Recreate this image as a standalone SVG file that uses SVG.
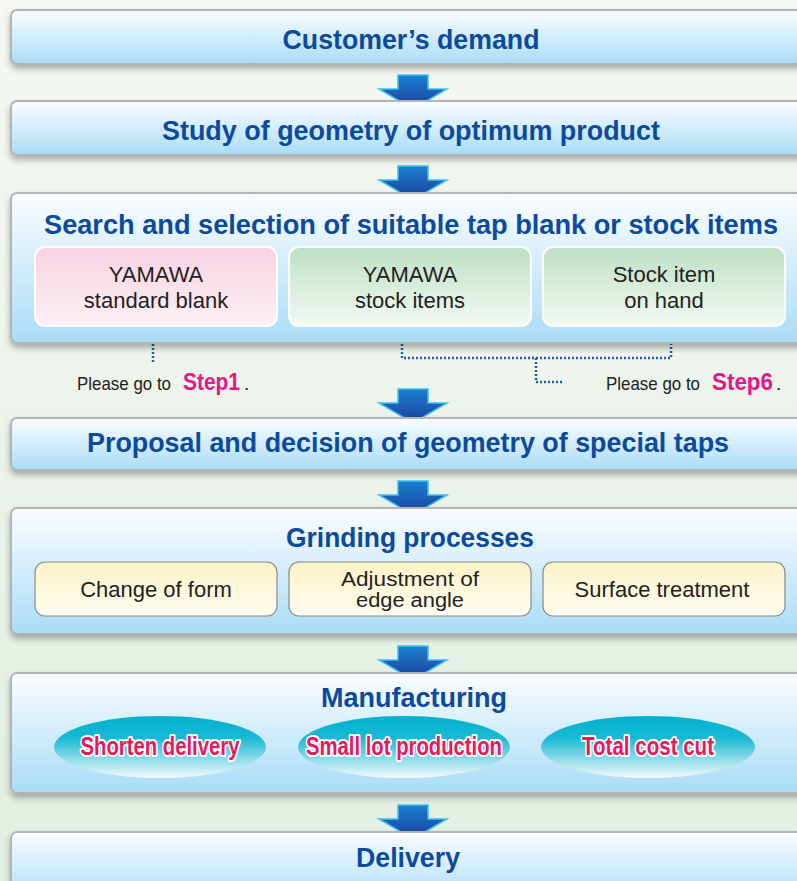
<svg xmlns="http://www.w3.org/2000/svg" width="797" height="881" viewBox="0 0 797 881">
<defs>
<linearGradient id="bg" x1="0" y1="0" x2="0" y2="1"><stop offset="0" stop-color="#f5f8f2"/><stop offset="1" stop-color="#e2efe2"/></linearGradient>
<linearGradient id="box" x1="0" y1="0" x2="0" y2="1"><stop offset="0" stop-color="#fbfdff"/><stop offset="1" stop-color="#a9dcf6"/></linearGradient>
<linearGradient id="pink" x1="0" y1="0" x2="0" y2="1"><stop offset="0" stop-color="#f8d2e2"/><stop offset="1" stop-color="#fdf1f6"/></linearGradient>
<linearGradient id="green" x1="0" y1="0" x2="0" y2="1"><stop offset="0" stop-color="#bde0c4"/><stop offset="1" stop-color="#f3faf4"/></linearGradient>
<linearGradient id="yellow" x1="0" y1="0" x2="0" y2="1"><stop offset="0" stop-color="#fcf3c6"/><stop offset="1" stop-color="#fffdf2"/></linearGradient>
<linearGradient id="ell" x1="0" y1="0" x2="0" y2="1"><stop offset="0" stop-color="#00b2cf"/><stop offset="0.35" stop-color="#1ab8d4"/><stop offset="1" stop-color="#f4fbfd"/></linearGradient>
<linearGradient id="arr" x1="0" y1="0" x2="0" y2="1"><stop offset="0" stop-color="#1a7fd2"/><stop offset="1" stop-color="#1d3f9a"/></linearGradient>
<filter id="sh" x="-5%" y="-20%" width="110%" height="150%"><feDropShadow dx="0" dy="4" stdDeviation="3" flood-color="#000" flood-opacity="0.3"/></filter>
<path id="arrow" d="M-15,0 H15 V14 H34 L0,34 L-34,14 H-15 Z"/>
</defs>
<style>
.main{fill:url(#box);stroke:#b4b4b4;stroke-width:2;filter:url(#sh)}
.title{font-family:"Liberation Sans",Arial,sans-serif;font-weight:bold;font-size:27px;fill:#0c4a9e;text-anchor:middle}
.sub{font-family:"Liberation Sans",Arial,sans-serif;font-size:22px;fill:#222;text-anchor:middle}
.sub2{font-family:"Liberation Sans",Arial,sans-serif;font-size:20px;fill:#222;text-anchor:middle}
.pk{fill:url(#pink);stroke:#fff;stroke-width:2}
.gr{fill:url(#green);stroke:#fff;stroke-width:2}
.yl{fill:url(#yellow);stroke:#8a8a8a;stroke-width:1.2}
.el{fill:url(#ell)}
.pt{font-family:"Liberation Sans",Arial,sans-serif;font-weight:bold;font-size:26px;fill:#e8185c;stroke:#fff;stroke-width:4;paint-order:stroke;stroke-linejoin:round;text-anchor:middle}
.arw{fill:url(#arr);stroke:#3cc0f0;stroke-width:1.5}
.dot{fill:none;stroke:#1f5fae;stroke-width:2.5;stroke-dasharray:2 2}
.go{font-family:"Liberation Sans",Arial,sans-serif;font-size:19px;fill:#222}
.step{font-family:"Liberation Sans",Arial,sans-serif;font-weight:bold;font-size:24px;fill:#e5168c}
</style>
<rect width="797" height="881" fill="url(#bg)"/>

<g id="connectors">
<use href="#arrow" x="413" y="75" class="arw"/>
<use href="#arrow" x="413" y="166" class="arw"/>
<use href="#arrow" x="413" y="389" class="arw"/>
<use href="#arrow" x="413" y="481" class="arw"/>
<use href="#arrow" x="413" y="646" class="arw"/>
<use href="#arrow" x="413" y="805" class="arw"/>
<path class="dot" d="M153,328 V363"/>
<path class="dot" d="M402,328 V358 H671 V328"/>
<path class="dot" d="M536,358 V382 H564"/>
</g>

<g id="customer-demand">
<rect class="main" x="11" y="10" width="800" height="54" rx="6"/>
<text class="title" x="411" y="49" textLength="257" lengthAdjust="spacingAndGlyphs">Customer’s demand</text>
</g>

<g id="study-geometry">
<rect class="main" x="11" y="101" width="800" height="54" rx="6"/>
<text class="title" x="411" y="140" textLength="498" lengthAdjust="spacingAndGlyphs">Study of geometry of optimum product</text>
</g>

<g id="search-selection">
<rect class="main" x="11" y="193" width="800" height="150" rx="6"/>
<text class="title" x="411" y="234" textLength="734" lengthAdjust="spacingAndGlyphs">Search and selection of suitable tap blank or stock items</text>
</g>

<g id="standard-blank">
<rect class="pk" x="35" y="247" width="242" height="79" rx="10"/>
<text class="sub" x="156" y="282">YAMAWA</text>
<text class="sub" x="156" y="308">standard blank</text>
</g>

<g id="stock-items">
<rect class="gr" x="289" y="247" width="242" height="79" rx="10"/>
<text class="sub" x="410" y="282">YAMAWA</text>
<text class="sub" x="410" y="308">stock items</text>
</g>

<g id="stock-on-hand">
<rect class="gr" x="543" y="247" width="242" height="79" rx="10"/>
<text class="sub" x="664" y="282">Stock item</text>
<text class="sub" x="664" y="308">on hand</text>
</g>

<g id="go-step1">
<text x="77" y="390"><tspan class="go" textLength="94" lengthAdjust="spacingAndGlyphs">Please go to</tspan><tspan class="step" x="183" textLength="57" lengthAdjust="spacingAndGlyphs">Step1</tspan><tspan class="go" x="244">.</tspan></text>
</g>

<g id="go-step6">
<text x="606" y="390"><tspan class="go" textLength="94" lengthAdjust="spacingAndGlyphs">Please go to</tspan><tspan class="step" x="712" textLength="61" lengthAdjust="spacingAndGlyphs">Step6</tspan><tspan class="go" x="776">.</tspan></text>
</g>

<g id="proposal">
<rect class="main" x="11" y="418" width="800" height="52" rx="6"/>
<text class="title" x="408" y="452" textLength="642" lengthAdjust="spacingAndGlyphs">Proposal and decision of geometry of special taps</text>
</g>

<g id="grinding">
<rect class="main" x="11" y="508" width="800" height="126" rx="6"/>
<text class="title" x="410" y="547" textLength="248" lengthAdjust="spacingAndGlyphs">Grinding processes</text>
</g>

<g id="change-form">
<rect class="yl" x="35" y="562" width="242" height="54" rx="10"/>
<text class="sub" x="156" y="597">Change of form</text>
</g>

<g id="edge-angle">
<rect class="yl" x="289" y="562" width="242" height="54" rx="10"/>
<text class="sub2" x="410" y="586" textLength="138" lengthAdjust="spacingAndGlyphs">Adjustment of</text>
<text class="sub2" x="410" y="607" textLength="108" lengthAdjust="spacingAndGlyphs">edge angle</text>
</g>

<g id="surface-treatment">
<rect class="yl" x="543" y="562" width="242" height="54" rx="10"/>
<text class="sub" x="662" y="597">Surface treatment</text>
</g>

<g id="manufacturing">
<rect class="main" x="11" y="673" width="800" height="120" rx="6"/>
<text class="title" x="414" y="707" textLength="186" lengthAdjust="spacingAndGlyphs">Manufacturing</text>
</g>

<g id="shorten-delivery">
<ellipse class="el" cx="160" cy="747" rx="106" ry="31"/>
<text class="pt" x="160" y="755" textLength="159" lengthAdjust="spacingAndGlyphs">Shorten delivery</text>
</g>

<g id="small-lot">
<ellipse class="el" cx="404" cy="747" rx="106" ry="31"/>
<text class="pt" x="404" y="755" textLength="196" lengthAdjust="spacingAndGlyphs">Small lot production</text>
</g>

<g id="total-cost">
<ellipse class="el" cx="648" cy="747" rx="107" ry="31"/>
<text class="pt" x="648" y="755" textLength="132" lengthAdjust="spacingAndGlyphs">Total cost cut</text>
</g>

<g id="delivery">
<rect class="main" x="11" y="832" width="800" height="70" rx="6"/>
<text class="title" x="408" y="867" textLength="104" lengthAdjust="spacingAndGlyphs">Delivery</text>
</g>
</svg>
